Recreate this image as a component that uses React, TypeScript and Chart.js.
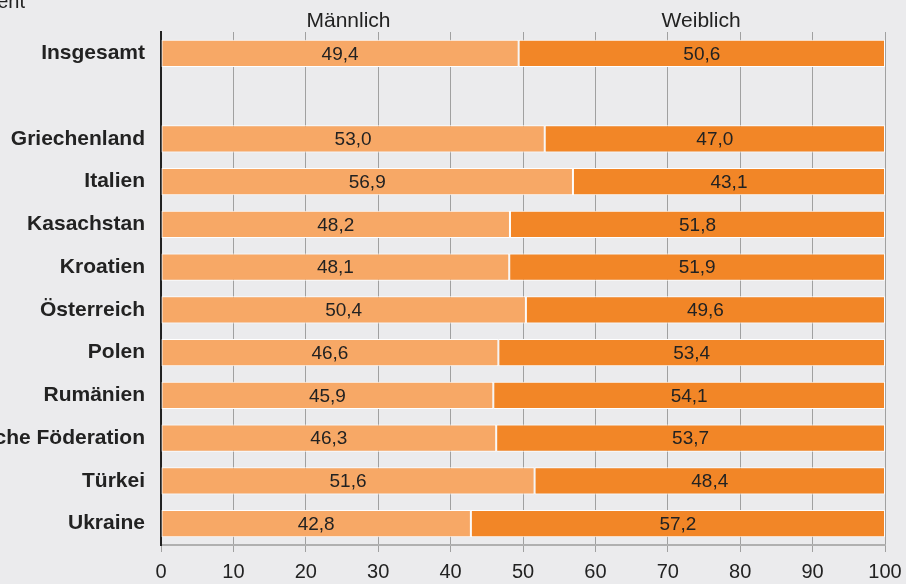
import React, { useEffect, useRef } from "react";
import { Chart, registerables } from "chart.js";

Chart.register(...registerables);

const categories = [
  "Insgesamt",
  "",
  "Griechenland",
  "Italien",
  "Kasachstan",
  "Kroatien",
  "Österreich",
  "Polen",
  "Rumänien",
  "Russische Föderation",
  "Türkei",
  "Ukraine",
];
const maennlich = [49.4, null, 53.0, 56.9, 48.2, 48.1, 50.4, 46.6, 45.9, 46.3, 51.6, 42.8];
const weiblich = [50.6, null, 47.0, 43.1, 51.8, 51.9, 49.6, 53.4, 54.1, 53.7, 48.4, 57.2];
const seriesNames = ["Männlich", "Weiblich"];
const unitLabel = "Prozent";

const FONT = '"Liberation Sans", Arial, Helvetica, sans-serif';
const BG = "#ebebed";
const LIGHT = "#f7a866";
const DARK = "#f28627";

const overlayPlugin = {
  id: "overlay",
  beforeDraw(chart: any) {
    const ctx = chart.ctx;
    ctx.save();
    ctx.fillStyle = BG;
    ctx.fillRect(0, 0, chart.width, chart.height);
    ctx.restore();
  },
  afterDraw(chart: any) {
    const ctx = chart.ctx;
    const xs = chart.scales.x;
    ctx.save();
    ctx.fillStyle = "#222";
    ctx.font = `20px ${FONT}`;
    ctx.textAlign = "right";
    ctx.textBaseline = "alphabetic";
    ctx.fillText(unitLabel, 25, 8);
    ctx.font = `21px ${FONT}`;
    ctx.textAlign = "center";
    ctx.fillText(seriesNames[0], xs.getPixelForValue(25.9), 27);
    ctx.fillText(seriesNames[1], xs.getPixelForValue(74.6), 27);
    // value labels
    ctx.font = `19px ${FONT}`;
    ctx.fillStyle = "#222";
    ctx.textBaseline = "middle";
    chart.data.datasets.forEach((ds: any, di: number) => {
      const meta = chart.getDatasetMeta(di);
      meta.data.forEach((el: any, i: number) => {
        const v = ds.data[i];
        if (v == null) return;
        const cx = (el.x + el.base) / 2;
        ctx.fillText(v.toFixed(1).replace(".", ","), cx, el.y + 1);
      });
    });
    ctx.restore();
  },
};

export default function App() {
  const ref = useRef<HTMLCanvasElement>(null);
  useEffect(() => {
    if (!ref.current) return;
    const chart = new Chart(ref.current, {
      type: "bar",
      data: {
        labels: categories,
        datasets: [
          {
            label: seriesNames[0],
            data: maennlich,
            backgroundColor: LIGHT,
            borderColor: "#ffffff",
            borderWidth: 1,
            borderSkipped: false,
            barPercentage: 0.8,
            categoryPercentage: 0.8,
          },
          {
            label: seriesNames[1],
            data: weiblich,
            backgroundColor: DARK,
            borderColor: "#ffffff",
            borderWidth: 1,
            borderSkipped: false,
            barPercentage: 0.8,
            categoryPercentage: 0.8,
          },
        ],
      },
      options: {
        indexAxis: "y",
        animation: false,
        responsive: false,
        maintainAspectRatio: false,
        layout: { padding: { top: 32, right: 21, left: 0, bottom: 0 } },
        plugins: {
          legend: { display: false },
          tooltip: { enabled: false },
        },
        scales: {
          x: {
            stacked: true,
            min: 0,
            max: 100,
            ticks: {
              stepSize: 10,
              color: "#222",
              font: { family: FONT, size: 20 },
              padding: 8,
              maxRotation: 0,
            },
            grid: {
              color: "#a0a0a0",
              lineWidth: 1,
              drawTicks: true,
              tickLength: 7,
            },
            border: { display: true, color: "#b0b0b0", width: 2 },
            afterFit(scale: any) {
              scale.height = 39;
              scale.paddingLeft = 0;
              scale.paddingRight = 0;
            },
          },
          y: {
            stacked: true,
            ticks: {
              color: "#222",
              font: { family: FONT, size: 21, weight: "bold" },
              padding: 16,
              autoSkip: false,
            },
            grid: { display: false, drawTicks: false },
            border: { display: true, color: "#222", width: 2 },
            afterFit(scale: any) {
              scale.width = 161;
            },
          },
        },
      },
      plugins: [overlayPlugin],
    } as any);
    return () => chart.destroy();
  }, []);
  return (
    <div style={{ position: "absolute", left: 0, top: 0, width: 906, height: 584, background: BG }}>
      <canvas ref={ref} width={906} height={584} style={{ display: "block" }} />
    </div>
  );
}
